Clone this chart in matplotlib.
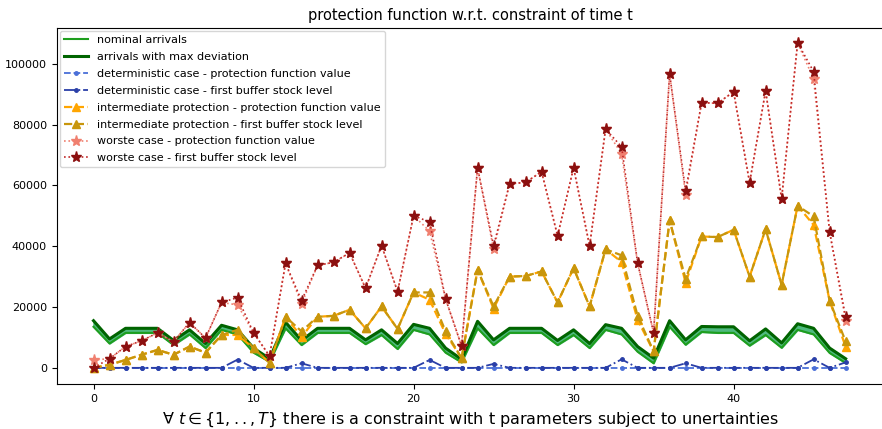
import numpy as np
import matplotlib
matplotlib.use("Agg")
import matplotlib.pyplot as plt

# time index t = 0..47
t = np.arange(48)

# arrivals (green band)
nominal = [13500, 8000, 11500, 11500, 11500, 7500, 11000, 6500, 12500, 11000, 5000, 2000,
           13000, 7500, 11500, 11500, 11500, 7800, 10800, 6200, 12500, 11000, 5000, 1800,
           13000, 7500, 11500, 11500, 11500, 7500, 10800, 6500, 12500, 11000, 5300, 1500,
           13500, 7600, 11800, 11500, 11500, 7300, 10800, 6600, 12500, 11000, 4900, 1600]
max_dev = [15500, 9500, 13000, 13000, 13000, 9000, 12500, 8000, 14000, 12500, 6500, 3000,
           15000, 9000, 13000, 13000, 13000, 9200, 12500, 8000, 14300, 13000, 6500, 2800,
           15300, 9200, 13000, 13000, 13000, 9000, 12500, 8000, 14200, 13000, 7000, 3200,
           15500, 9200, 13600, 13500, 13500, 8900, 12800, 8200, 14500, 13000, 6500, 3000]

# deterministic case
det_prot = [0] * 48
det_buf = [0, 0, 0, 0, 0, 0, 0, 0, 0, 2700, 0, 0,
           0, 1500, 0, 0, 0, 0, 0, 0, 0, 2600, 0, 0,
           0, 1300, 0, 0, 0, 0, 0, 0, 0, 2800, 0, 0,
           0, 1500, 0, 0, 0, 0, 0, 0, 0, 2800, 0, 1800]

# intermediate protection
int_buf = [0, 1000, 2600, 4300, 5900, 4300, 7000, 5000, 10800, 12500, 6500, 1600,
           16800, 12000, 16800, 17100, 19100, 13000, 20200, 12800, 24800, 24800, 12000, 3200,
           32200, 20200, 30000, 30200, 31700, 21500, 32800, 20200, 39000, 37000, 17100, 5400,
           48500, 29300, 43200, 43000, 45400, 30000, 45600, 27300, 53300, 49800, 22100, 8700]
int_prot = [0, 1000, 2600, 4300, 5900, 4300, 7000, 5000, 10800, 10800, 6500, 1600,
            16800, 10200, 16800, 17100, 19100, 13000, 20200, 12800, 24800, 22400, 11200, 3200,
            32200, 19500, 30000, 30200, 31700, 21500, 32800, 20200, 39000, 34800, 15800, 5400,
            48500, 28000, 43200, 43000, 45400, 30000, 45600, 27300, 53300, 47000, 22100, 6900]

# worst case
worst_buf = [0, 3000, 7000, 8900, 11500, 8600, 14900, 9800, 21500, 23100, 11500, 3900,
             34400, 22100, 33700, 34700, 37800, 26200, 40200, 25100, 50000, 48000, 22700, 7200,
             65800, 40100, 60500, 61000, 64500, 43400, 65800, 40100, 78500, 72700, 34500, 11500,
             96700, 58200, 87200, 87000, 90800, 60900, 91100, 55600, 106900, 97400, 44700, 16700]
worst_prot = [2600, 3000, 7000, 8900, 11500, 8600, 14900, 9800, 21500, 20700, 11500, 3900,
              34400, 21000, 33700, 34700, 37800, 26200, 40200, 25100, 50000, 45000, 22700, 7200,
              65800, 39000, 60500, 61000, 64500, 43400, 65800, 40100, 78500, 70400, 34500, 11500,
              96700, 57000, 87200, 87000, 90800, 60900, 91100, 55600, 106900, 95000, 44700, 15500]

fig = plt.figure(figsize=(8.82, 4.29), dpi=100)
ax = fig.add_axes([0.0643, 0.105, 0.938, 0.830])

ax.fill_between(t, nominal, max_dev, color="#3cb371", alpha=0.9)
ax.plot(t, nominal, color="#1e9e1e", lw=1.5, label="nominal arrivals")
ax.plot(t, max_dev, color="darkgreen", lw=2.2, label="arrivals with max deviation")

ax.plot(t, det_prot, color="#4a6fd8", ls="--", marker="o", ms=2.5, lw=1.3,
        label="deterministic case - protection function value")
ax.plot(t, det_buf, color="#2a3fa8", ls="-.", marker="o", ms=2.5, lw=1.3,
        label="deterministic case - first buffer stock level")

ax.plot(t, int_prot, color="orange", ls="--", marker="^", ms=6, lw=1.6,
        label="intermediate protection - protection function value")
ax.plot(t, int_buf, color="#c8960c", ls="--", marker="^", ms=6, lw=1.6,
        label="intermediate protection - first buffer stock level")

ax.plot(t, worst_prot, color="#f08070", ls=":", marker="*", ms=8, lw=1.2,
        label="worste case - protection function value")
ax.plot(t, worst_buf, color="#c02828", ls=":", marker="*", ms=8, lw=1.2,
        mfc="#8b1010", mec="#8b1010",
        label="worste case - first buffer stock level")

ax.set_xlim(-2.3, 49.4)
ax.set_ylim(-5300, 111800)
ax.tick_params(labelsize=8)
ax.set_title("protection function w.r.t. constraint of time t", fontsize=10.5)
ax.set_xlabel(r"$\forall\ t \in \{1, .., T\}$ there is a constraint with t parameters subject to unertainties",
              fontsize=11.5, labelpad=5)
ax.legend(loc="upper left", fontsize=8, labelspacing=0.62, handlelength=2.2,
          borderpad=0.35, borderaxespad=0.3)

fig.savefig("out.png", dpi=100)
